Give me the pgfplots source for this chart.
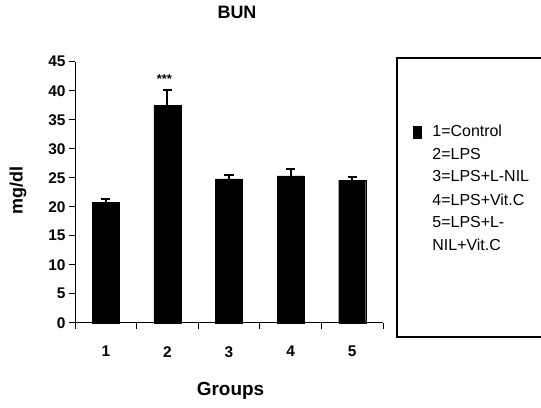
\documentclass[border=0pt]{standalone}
\usepackage{pgfplots}
\pgfplotsset{compat=1.18}
\usepackage{fontspec}
\setmainfont{Liberation Sans}
\begin{document}
\begin{tikzpicture}[x=1bp,y=1bp]
\begin{axis}[
  at={(75bp,85.3bp)}, anchor=south west,
  scale only axis, width=308bp, height=261bp,
  xmin=0.5, xmax=5.5, ymin=0, ymax=45,
  axis lines=left, axis line style={-, line width=1pt},
  tick align=outside, major tick length=6bp,
  tick style={line width=0.9pt, black},
  xtick={0.5,1.5,...,5.5}, xticklabels={},
  extra x ticks={1,2,3,4,5}, extra x tick labels={1,2,3,4,5},
  extra x tick style={major tick length=0pt, xticklabel style={yshift=-20bp}},
  ytick={0,5,...,45},
  /pgf/number format/assume math mode=true,
  ticklabel style={font=\bfseries\fontsize{15.5}{18}\selectfont},
  xlabel={Groups}, ylabel={mg/dl}, title={BUN},
  xlabel style={font=\bfseries\fontsize{19}{20}\selectfont, at={(axis description cs:0.505,-0.262)}, anchor=center},
  ylabel style={font=\bfseries\fontsize{18}{20}\selectfont, at={(axis description cs:-0.185,0.508)}, anchor=center, rotate=0},
  title style={font=\bfseries\fontsize{18}{20}\selectfont, at={(axis description cs:0.526,1.167)}, anchor=center},
  legend style={draw=none, fill=none, at={(1.097,0.765)}, anchor=north west,
    font=\fontsize{16}{18}\selectfont, row sep=6bp, inner sep=0pt},
  legend cell align=left,
  clip=false,
]
\addplot[ybar, bar width=27bp, fill=black, draw=black,
  error bars/.cd, y dir=plus, y explicit,
  error bar style={line width=2pt, black},
  error mark options={rotate=90, line width=2pt, mark size=4.5bp, black},
  /pgfplots/.cd,
  legend image code/.code={\fill[black] (0bp,-6bp) rectangle (8bp,6bp); \path (17bp,0bp);}]
  coordinates {
  (1,20.8) +- (0,0.5)
  (2,37.5) +- (0,2.7)
  (3,24.8) +- (0,0.7)
  (4,25.3) +- (0,1.2)
  (5,24.6) +- (0,0.6)
  };
\addlegendentry{1=Control}
\addlegendimage{empty legend}\addlegendentry{2=LPS}
\addlegendimage{empty legend}\addlegendentry{3=LPS+L-NIL}
\addlegendimage{empty legend}\addlegendentry{4=LPS+Vit.C}
\addlegendimage{empty legend}\addlegendentry{5=LPS+L-}
\addlegendimage{empty legend}\addlegendentry{NIL+Vit.C}
\node[font=\bfseries\fontsize{13}{13}\selectfont] at (axis cs:1.95,42.0) {***};
\end{axis}
\draw[line width=1.1pt] (548bp,350bp) -- (397bp,350bp) -- (397bp,71bp) -- (548bp,71bp);
\pgfresetboundingbox
\useasboundingbox (0,0) rectangle (541bp,408bp);
\end{tikzpicture}
\end{document}
